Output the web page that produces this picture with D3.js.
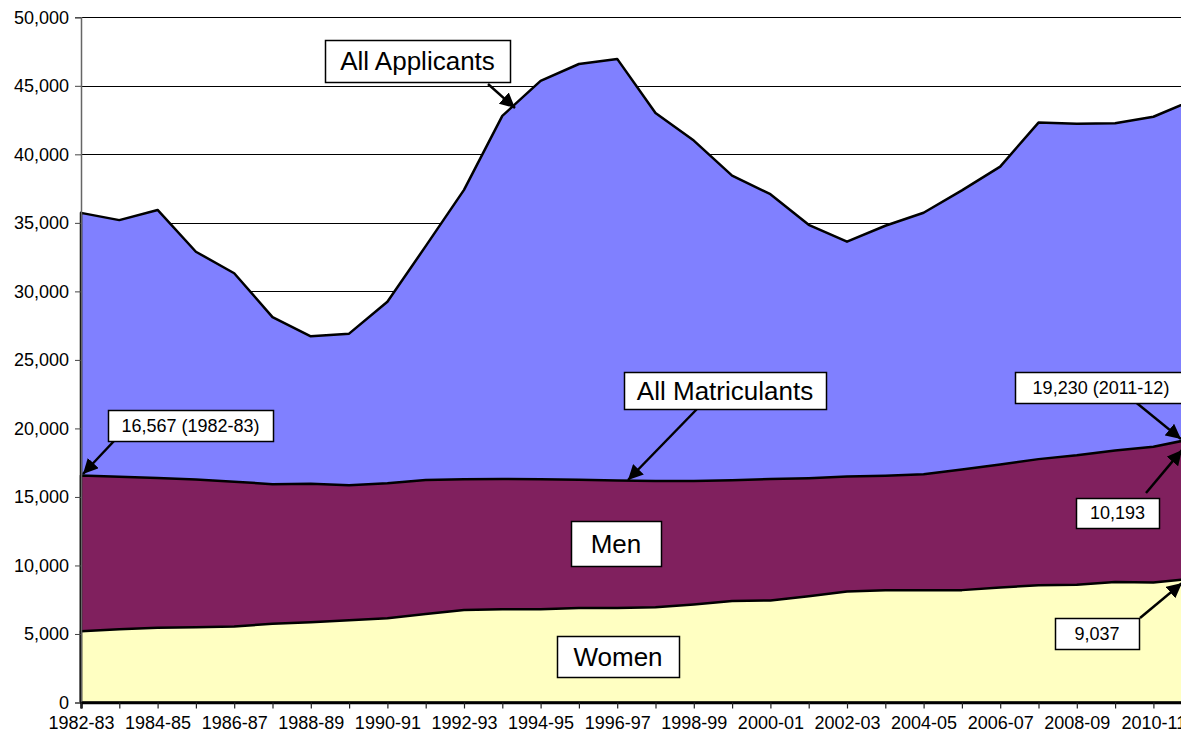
<!DOCTYPE html>
<html>
<head>
<meta charset="utf-8">
<script src="https://cdn.jsdelivr.net/npm/d3@7"></script>
<style>
  html, body { margin: 0; padding: 0; background: #fff; overflow: hidden; }
  svg { display: block; font-family: "Liberation Sans", Arial, sans-serif; }
</style>
</head>
<body>
<svg id="chart" width="1181" height="736"></svg>
<script>
const categories = ["1982-83","1983-84","1984-85","1985-86","1986-87","1987-88","1988-89","1989-90","1990-91","1991-92","1992-93","1993-94","1994-95","1995-96","1996-97","1997-98","1998-99","1999-00","2000-01","2001-02","2002-03","2003-04","2004-05","2005-06","2006-07","2007-08","2008-09","2009-10","2010-11","2011-12"];
const applicants = [35730,35200,35944,32893,31323,28123,26721,26915,29243,33301,37410,42808,45360,46591,46965,43016,41004,38443,37088,34859,33625,34791,35735,37373,39108,42315,42231,42269,42742,43919];
const matriculants = [16567,16480,16381,16268,16117,15927,15970,15860,15998,16233,16287,16307,16287,16252,16201,16164,16167,16221,16301,16365,16488,16538,16648,17004,17361,17759,18036,18390,18665,19230];
const women = [5200,5350,5450,5500,5550,5750,5850,6000,6150,6450,6750,6800,6800,6900,6900,6950,7150,7400,7450,7750,8100,8200,8200,8200,8400,8550,8600,8800,8750,9037];
const yTicks = [0,5000,10000,15000,20000,25000,30000,35000,40000,45000,50000];
const xTickLabels = categories.filter((d, i) => i % 2 === 0 && i < 29);

const svg = d3.select("#chart");
const left = 81, step = 38.3;
const x = d3.scalePoint().domain(categories).range([left, left + step * (categories.length - 1)]);
const y = d3.scaleLinear().domain([0, 50000]).range([702.5, 17.3]);
const fmt = d3.format(",");

// gridlines
svg.append("g").selectAll("line").data(yTicks.filter(d => d > 0)).join("line")
  .attr("x1", left).attr("x2", 1200)
  .attr("y1", d => Math.round(y(d)) + 0.5).attr("y2", d => Math.round(y(d)) + 0.5)
  .attr("stroke", "#000").attr("stroke-width", 1);

function areaFor(vals) {
  return d3.area().x((d, i) => x(categories[i])).y0(y(0)).y1(d => y(d))(vals);
}
const layers = [
  {vals: applicants, fill: "#8080FF"},
  {vals: matriculants, fill: "#80205E"},
  {vals: women, fill: "#FFFFC2"}
];
svg.append("g").selectAll("path").data(layers).join("path")
  .attr("d", d => areaFor(d.vals))
  .attr("fill", d => d.fill)
  .attr("stroke", "#000").attr("stroke-width", 2.5).attr("stroke-linejoin", "round");

// y axis
const yAxis = svg.append("g").attr("transform", `translate(${left},0)`)
  .call(d3.axisLeft(y).tickValues(yTicks).tickFormat(fmt).tickSize(6).tickPadding(6));
yAxis.select(".domain").attr("stroke", "#666").attr("stroke-width", 1.5);
yAxis.selectAll(".tick line").attr("stroke", "#444");
yAxis.selectAll("text").attr("font-size", 18).attr("fill", "#000").attr("font-family", "Liberation Sans, Arial, sans-serif");

// x axis
const xAxis = svg.append("g").attr("transform", `translate(0,${y(0)})`)
  .call(d3.axisBottom(x).tickSize(6).tickPadding(8).tickFormat(d => xTickLabels.includes(d) ? d : ""));
xAxis.select(".domain").attr("stroke", "#000").attr("stroke-width", 2.5);
xAxis.selectAll(".tick line").attr("stroke", "#222").attr("stroke-width", 1.2);
xAxis.selectAll("text").attr("font-size", 18).attr("fill", "#000").attr("font-family", "Liberation Sans, Arial, sans-serif");

// arrow marker
svg.append("defs").append("marker")
  .attr("id", "arr").attr("viewBox", "0 0 10 10").attr("refX", 10).attr("refY", 5)
  .attr("markerWidth", 6).attr("markerHeight", 6).attr("orient", "auto")
  .append("path").attr("d", "M0,0 L10,5 L0,10 Z").attr("fill", "#000");

const arrows = [
  [488, 84, 515, 108],
  [697, 409, 628, 480],
  [114, 441, 83, 474],
  [1133, 400, 1181, 439],
  [1146, 493, 1182, 450],
  [1140, 618, 1182, 583]
];
svg.append("g").selectAll("line").data(arrows).join("line")
  .attr("x1", d => d[0]).attr("y1", d => d[1]).attr("x2", d => d[2]).attr("y2", d => d[3])
  .attr("stroke", "#000").attr("stroke-width", 2.5).attr("marker-end", "url(#arr)");

const boxes = [
  {t: "All Applicants", x: 325, y: 40, w: 185, h: 42, fs: 26},
  {t: "All Matriculants", x: 624, y: 372, w: 202, h: 37, fs: 26},
  {t: "Men", x: 571, y: 521, w: 90, h: 45, fs: 26},
  {t: "Women", x: 557, y: 636, w: 122, h: 41, fs: 26},
  {t: "16,567 (1982-83)", x: 108, y: 410, w: 165, h: 31, fs: 18},
  {t: "19,230 (2011-12)", x: 1015, y: 372, w: 172, h: 31, fs: 18},
  {t: "10,193", x: 1076, y: 498, w: 83, h: 30, fs: 18},
  {t: "9,037", x: 1055, y: 618, w: 84, h: 31, fs: 18}
];
const bg = svg.append("g").selectAll("g").data(boxes).join("g");
bg.append("rect").attr("x", d => d.x + 0.5).attr("y", d => d.y + 0.5).attr("width", d => d.w).attr("height", d => d.h)
  .attr("fill", "#fff").attr("stroke", "#000").attr("stroke-width", 1.5);
bg.append("text").attr("x", d => d.x + d.w / 2).attr("y", d => d.y + d.h / 2 + d.fs * 0.36)
  .attr("text-anchor", "middle").attr("font-size", d => d.fs).attr("fill", "#000").text(d => d.t);
</script>
</body>
</html>
